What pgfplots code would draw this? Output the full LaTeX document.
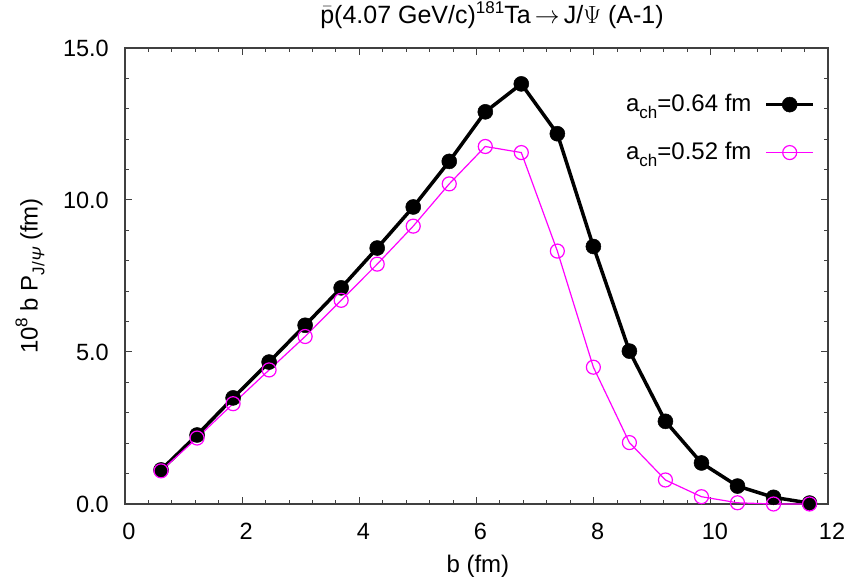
\documentclass[border=0pt]{standalone}
\usepackage{fontspec}
\setmainfont{Liberation Sans}
\usepackage{pgfplots}
\pgfplotsset{compat=1.18}
\definecolor{mag}{RGB}{255,0,255}
\definecolor{axgray}{RGB}{64,64,64}
\newcommand\sps[1]{\raisebox{0.42em}{\fontsize{17bp}{17bp}\selectfont #1}}
\newcommand\sbs[1]{\raisebox{-0.28em}{\fontsize{17bp}{17bp}\selectfont #1}}

\pgfplotstableread{
b P
0.615 1.12
1.230 2.27
1.845 3.49
2.460 4.67
3.075 5.88
3.690 7.11
4.305 8.42
4.920 9.77
5.535 11.27
6.150 12.90
6.765 13.82
7.380 12.18
7.995 8.47
8.610 5.03
9.225 2.72
9.840 1.35
10.455 0.59
11.070 0.22
11.685 0.03
}\blackdata

\pgfplotstableread{
b P
0.615 1.09
1.230 2.17
1.845 3.30
2.460 4.41
3.075 5.51
3.690 6.70
4.305 7.89
4.920 9.14
5.535 10.53
6.150 11.76
6.765 11.56
7.380 8.32
7.995 4.50
8.610 2.02
9.225 0.79
9.840 0.24
10.455 0.04
11.070 0.00
11.685 0.00
}\magdata

\begin{document}
\fontsize{24bp}{28bp}\selectfont
\begin{tikzpicture}
\path[use as bounding box] (-125bp,-84bp) rectangle (721bp,504bp);
\begin{axis}[
  at={(0,0)}, anchor=south west,
  scale only axis, width=703bp, height=456bp,
  xmin=0, xmax=12, ymin=0, ymax=15,
  xtick={0,2,...,12}, minor x tick num=4,
  ytick={0,5,10,15}, minor y tick num=4,
  tick align=inside, xtick pos=both, ytick pos=both,
  major tick length=7bp, minor tick length=4bp,
  every tick/.style={axgray, line width=1bp},
  axis line style={axgray, line width=1.5bp},
  font=\fontsize{23.5bp}{28bp}\selectfont,
  /pgf/number format/assume math mode=true,
  y tick label style={/pgf/number format/fixed, /pgf/number format/fixed zerofill, /pgf/number format/precision=1, xshift=-8bp},
  x tick label style={yshift=-11bp, xshift=4bp},
  title={\ensuremath{\bar{\mbox{p}}}(4.07 GeV/c)\sps{181}Ta\,$\rightarrow$\,J/$\Psi$ (A-1)},
  title style={at={(axis description cs:0.522,1.0592)}, anchor=center, font=\fontsize{25bp}{29bp}\selectfont},
  xlabel={b (fm)},
  xlabel style={at={(axis description cs:0.502,-0.136)}, anchor=center, font=\fontsize{24bp}{28bp}\selectfont},
  ylabel={10\sps{8} b P\sbs{J/\textit{Ψ}} (fm)},
  ylabel style={at={(axis description cs:-0.1351,0.5)}, anchor=center, font=\fontsize{24bp}{28bp}\selectfont},
  clip=false,
  legend plot pos=right,
  legend cell align=right,
  legend style={draw=none, fill=none, at={(axis description cs:0.986,0.908)}, anchor=north east, row sep=23bp,
    font=\fontsize{24bp}{28bp}\selectfont,
    /tikz/every odd column/.style={column sep=11bp}},
  legend image code/.code={\draw[mark repeat=2,mark phase=2,#1] plot coordinates {(0bp,0bp) (23.5bp,0bp) (47bp,0bp)};},
]
\addplot[black, line width=3.5bp, line join=round, mark=*, mark size=7.5bp, mark options={solid, line width=0.5bp, fill=black}] table[x=b,y=P] {\blackdata};
\addlegendentry{a\sbs{ch}=0.64 fm}
\addplot[mag, line width=1.2bp, mark=o, mark size=7bp, mark options={solid, line width=1.2bp}] table[x=b,y=P] {\magdata};
\addlegendentry{a\sbs{ch}=0.52 fm}
\end{axis}
\end{tikzpicture}
\end{document}
